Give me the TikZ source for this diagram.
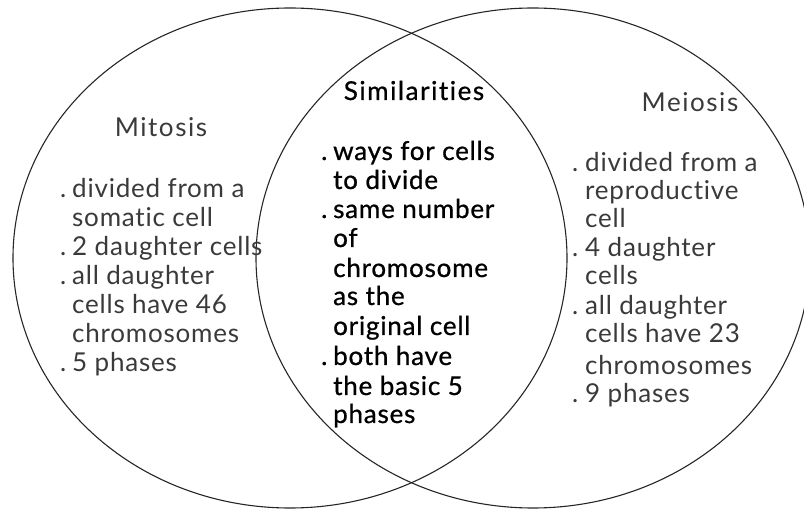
\documentclass[tikz,border=0pt]{standalone}
\usepackage{fontspec}
\setmainfont{Lato}
\newfontfamily\itemfont{Lato}[LetterSpace=3,Ligatures=NoCommon]
\newfontfamily\centerfont{Lato}[LetterSpace=3,Ligatures=NoCommon,FakeBold=0.8]
\newfontfamily\headfont{Lato}[LetterSpace=6,Ligatures=NoCommon]
\newfontfamily\centerheadfont{Lato}[LetterSpace=6,Ligatures=NoCommon,FakeBold=0.8]
\definecolor{ink}{HTML}{3A3A3A}
\begin{document}
\begin{tikzpicture}[x=1pt,y=-1pt,
  ring/.style={draw=black!85, line width=1.1pt},
  head/.style={anchor=base, font=\headfont\fontsize{26}{30}\selectfont, text=ink, inner sep=0pt},
  item/.style={anchor=base west, font=\itemfont\fontsize{26}{29}\selectfont, text=ink, inner sep=0pt},
  citem/.style={item, font=\centerfont\fontsize{26}{29}\selectfont, text=black},
  bul/.style={anchor=base west, font=\itemfont\fontsize{26}{29}\selectfont, text=ink, inner sep=0pt}]
\useasboundingbox (0,0) rectangle (804,510);
\clip (0,0) rectangle (804,510);
\draw[ring] (290,258) ellipse [x radius=277, y radius=250];
\draw[ring] (533,258) ellipse [x radius=277, y radius=250];
% headings
\node[head] (hmit) at (161,137) {Mitosis};
\node[head, font=\centerheadfont\fontsize{26}{30}\selectfont, text=black] (hsim) at (414,100) {Similarities};
\node[head] (hmei) at (690,112) {Meiosis};
% left list
\foreach \t/\y [count=\i] in {divided from a/198, somatic cell/227, 2 daughter cells/256,
  all daughter/285, cells have 46/314, chromosomes/343, 5 phases/372}
  \node[item] (L\i) at (72,\y) {\t};
\foreach \y [count=\i] in {198,256,285,372}
  \node[bul] (Lb\i) at (60,\y) {.};
% center list
\foreach \t/\y [count=\i] in {ways for cells/160, to divide/189, same number/218, of/247,
  chromosome/277, as the/305, original cell/335, both have/365, the basic 5/395, phases/423}
  \node[citem] (C\i) at (333,\y) {\t};
\foreach \y [count=\i] in {160,218,365}
  \node[citem] (Cb\i) at (321,\y) {.};
% right list
\foreach \t/\y [count=\i] in {divided from a/172, reproductive/200, cell/228, 4 daughter/257,
  cells/285, all daughter/315, cells have 23/343, chromosomes/375, 9 phases/403}
  \node[item] (R\i) at (585,\y) {\t};
\foreach \y [count=\i] in {172,257,315,403}
  \node[bul] (Rb\i) at (572,\y) {.};
\end{tikzpicture}
\end{document}
